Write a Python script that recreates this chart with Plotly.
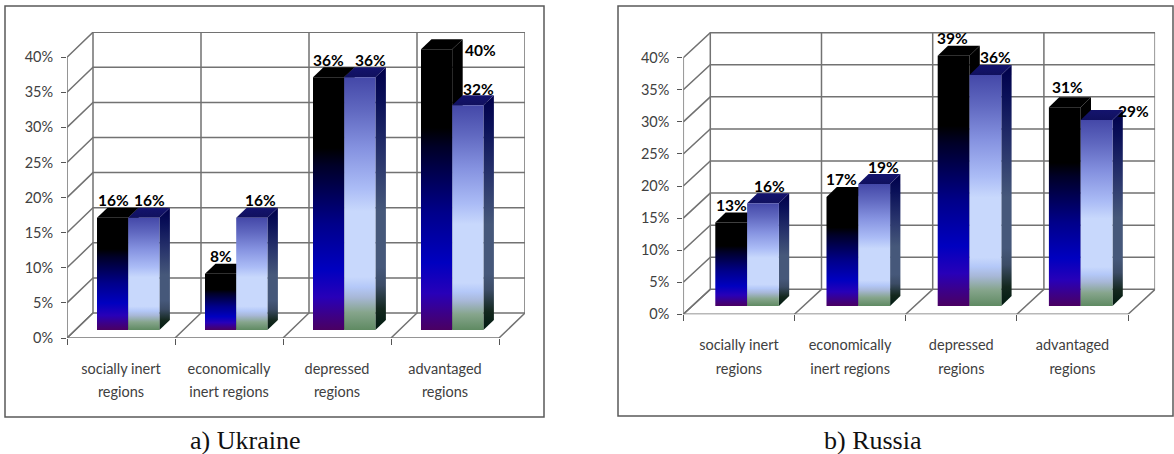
import plotly.graph_objects as go

W, H = 1174, 454

# Chart data, in percent of regions
categories = ["socially inert<br>regions", "economically<br>inert regions",
              "depressed<br>regions", "advantaged<br>regions"]
ukraine_first = [16, 8, 36, 40]
ukraine_second = [16, 16, 36, 32]
russia_first = [13, 17, 39, 31]
russia_second = [16, 19, 36, 29]
percent_ticks = [0, 5, 10, 15, 20, 25, 30, 35, 40]
captions = ["a) Ukraine", "b) Russia"]

# Vertical gradients for the bar faces, bottom to top
DARK_FRONT = [[0, "#4a0062"], [0.06, "#3c0088"], [0.13, "#2800b8"], [0.24, "#0000c0"],
              [0.42, "#00008a"], [0.52, "#000060"], [0.65, "#000028"], [0.72, "#000000"], [1, "#000000"]]
LIGHT_FRONT = [[0, "#5f8a62"], [0.07, "#86a58c"], [0.13, "#a8b8d8"], [0.17, "#b4c8f8"], [0.21, "#c8d8fc"],
               [0.47, "#c8d8fc"], [0.56, "#abbcf6"], [0.72, "#8592e0"], [0.87, "#6068c0"], [1, "#4448a8"]]
LIGHT_SIDE = [[0, "#001a10"], [0.08, "#14281e"], [0.17, "#3c4c66"], [0.24, "#46587a"],
              [0.45, "#46587a"], [0.68, "#25306a"], [0.87, "#0a1058"], [1, "#00004a"]]
DARK_SOLID = [[0, "#000000"], [1, "#000000"]]
LIGHT_TOP = [[0, "#10105e"], [1, "#14146e"]]

GRID = "#727272"
INK = "#404040"

# Panel layout in page pixels
panels = [
    dict(series=(ukraine_first, ukraine_second), caption=captions[0], cap_x=245,
         frame=(5, 6, 544, 417), x0=67, y0=338, cat_w=108, unit=7.02,
         wall=(26, 25), bar_off=(30, 8), bar_w=31.2, depth=(10.5, 10),
         shifts=[[(0.5, 18), (0, 18), (0, 17), (43.5, -1)],
                 [(5.5, 18), (9, 18), (11, 17), (11, 16)]]),
    dict(series=(russia_first, russia_second), caption=captions[1], cap_x=873,
         frame=(618, 6, 1173, 416), x0=683.3, y0=314.3, cat_w=111.2, unit=6.415,
         wall=(27, 25), bar_off=(32, 8.3), bar_w=31.8, depth=(10.3, 10),
         shifts=[[(0, 17.6), (-1, 17.5), (-1, 18), (3, 20)],
                 [(6, 17), (9, 17), (10, 18), (36.5, 9)]]),
]

fig = go.Figure()
layout = dict(width=W, height=H, margin=dict(l=0, r=0, t=0, b=0, autoexpand=False), autosize=False,
              paper_bgcolor="white", plot_bgcolor="white", showlegend=False,
              hovermode=False, shapes=[], annotations=[])


def face(xs, ys, scale, xa, ya):
    """Add one filled polygon of a bar with a vertical gradient."""
    fig.add_trace(go.Scatter(
        x=xs + xs[:1], y=ys + ys[:1], xaxis=xa, yaxis=ya, mode="lines",
        line=dict(width=0), fill="toself",
        fillgradient=dict(type="vertical", colorscale=scale), hoverinfo="skip"))


for n, p in enumerate(panels):
    suffix = "" if n == 0 else str(n + 1)
    xa, ya = "x" + suffix, "y" + suffix
    ncat = len(categories)
    cat_w, unit = p["cat_w"], p["unit"]

    # Pixel depths expressed in axis units
    wall_x, wall_y = p["wall"][0] / cat_w, p["wall"][1] / unit
    off_x, off_y = p["bar_off"][0] / cat_w, p["bar_off"][1] / unit
    bar_w = p["bar_w"] / cat_w
    dep_x, dep_y = p["depth"][0] / cat_w, p["depth"][1] / unit
    top = percent_ticks[-1]

    # Left wall, back wall and floor rulings
    gx, gy = [], []
    for v in percent_ticks:
        gx += [0, wall_x, ncat + wall_x, None]
        gy += [v, v + wall_y, v + wall_y, None]
    for i in range(ncat + 1):
        gx += [i, i + wall_x, i + wall_x, None]
        gy += [0, wall_y, top + wall_y, None]
    gx += [0, ncat, None, 0, 0]
    gy += [0, 0, None, 0, top]
    fig.add_trace(go.Scatter(x=gx, y=gy, xaxis=xa, yaxis=ya, mode="lines",
                             line=dict(color=GRID, width=1.5), hoverinfo="skip"))

    # Bars: front, side and top faces, projected in axis units
    for s, values in enumerate(p["series"]):
        front = LIGHT_FRONT if s else DARK_FRONT
        side = LIGHT_SIDE if s else DARK_SOLID
        cap = LIGHT_TOP if s else DARK_SOLID
        for i, v in enumerate(values):
            left = i + off_x + s * bar_w
            right = left + bar_w
            y_top = off_y + v
            face([right, right + dep_x, right + dep_x, right],
                 [off_y, off_y + dep_y, y_top + dep_y, y_top], side, xa, ya)
            face([left, right, right + dep_x, left + dep_x],
                 [y_top, y_top, y_top + dep_y, y_top + dep_y], cap, xa, ya)
            face([left, right, right, left],
                 [off_y, off_y, y_top, y_top], front, xa, ya)

    # Value labels sit above the front face of each bar
    for s, values in enumerate(p["series"]):
        for i, v in enumerate(values):
            dx, dy = p["shifts"][s][i]
            layout["annotations"].append(dict(
                x=i + off_x + (s + 0.5) * bar_w, y=off_y + v, xref=xa, yref=ya,
                text=f"{v}%", showarrow=False, xshift=dx, yshift=dy,
                xanchor="center", yanchor="middle",
                font=dict(family="Lato", size=15.5, color="#000000", weight="bold")))

    dom_x = [p["x0"] / W, (p["x0"] + ncat * cat_w + p["wall"][0]) / W]
    dom_y = [1 - p["y0"] / H, 1 - 32 / H]
    y_span = (p["y0"] - 32) / unit
    layout["xaxis" + suffix] = dict(
        domain=dom_x, range=[0, ncat + wall_x], anchor=ya, showgrid=False, zeroline=False,
        tickmode="array", tickvals=[i + 0.5 for i in range(ncat)],
        ticktext=[f'<span style="font-size:14.5px">{c.split("<br>")[0]}</span><br>'
                  f'<span style="font-size:14.5px">{c.split("<br>")[1]}</span>' for c in categories],
        ticks="", ticklen=0, ticklabelstandoff=17,
        minor=dict(tickmode="array", tickvals=list(range(ncat + 1)), ticks="outside",
                   ticklen=6, tickcolor="#555555", tickwidth=1.3, showgrid=False),
        tickfont=dict(family="Lato", size=18, color=INK))
    layout["yaxis" + suffix] = dict(
        domain=dom_y, range=[0, y_span], anchor=xa, showgrid=False, zeroline=False,
        tickmode="array", tickvals=percent_ticks, ticktext=[f"{t}%" for t in percent_ticks],
        ticks="outside", ticklen=5, tickcolor="#555555", tickwidth=1.3, ticklabelstandoff=5,
        tickfont=dict(family="Lato", size=14.5, color=INK))

    # Frame around the panel and its caption
    fx0, fy0, fx1, fy1 = p["frame"]
    layout["shapes"].append(dict(type="rect", xref="paper", yref="paper", layer="below",
                                 x0=fx0 / W, x1=fx1 / W, y0=1 - fy0 / H, y1=1 - fy1 / H,
                                 line=dict(color="#5a5a5a", width=1.5)))
    layout["annotations"].append(dict(
        x=p["cap_x"] / W, y=1 - 440 / H, xref="paper", yref="paper", text=p["caption"],
        showarrow=False, xanchor="center", yanchor="middle",
        font=dict(family="Liberation Serif", size=26, color="#111111")))

fig.update_layout(**layout)
fig.write_html("out.html", config=dict(displayModeBar=False))
